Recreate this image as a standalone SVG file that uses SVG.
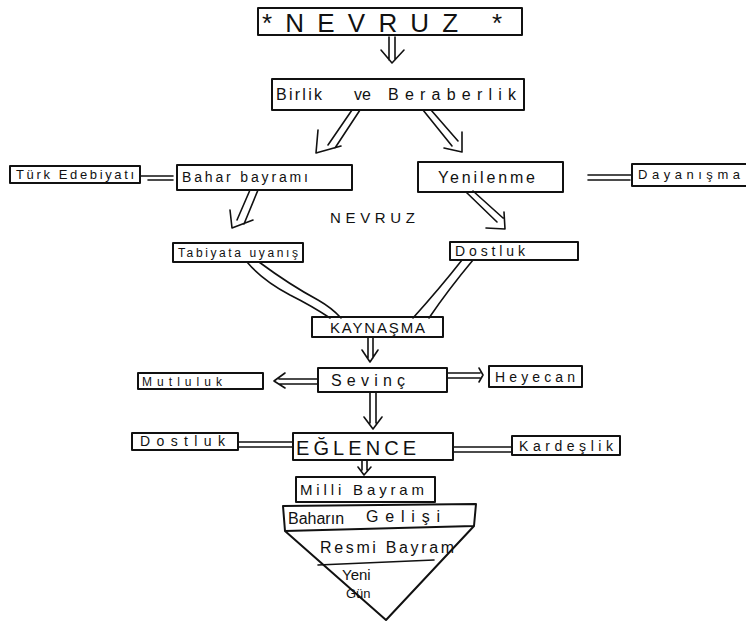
<svg xmlns="http://www.w3.org/2000/svg" width="746" height="623" viewBox="0 0 746 623">
  <style>
    .box { fill: none; stroke: #111; stroke-width: 2; stroke-linejoin: round; }
    .ln { fill: none; stroke: #111; stroke-width: 1.6; stroke-linecap: round; stroke-linejoin: round; }
    .t { font-family: "Liberation Sans", "DejaVu Sans", sans-serif; fill: #111; }
    .s { font-size: 13px; }
  </style>
  <rect width="746" height="623" fill="#fff"/>

  <!-- connectors -->
  <g id="connectors">
    <!-- title to Birlik -->
    <path class="ln" d="M389 37 V60 M395 37 V60 M381 50 L392 63 L404 50"/>
    <!-- Birlik to Bahar (double shaft, down-left) -->
    <path class="ln" d="M352 110 L328 145 M360 110 L335 148 M318 130 L316 153 L341 146"/>
    <!-- Birlik to Yenilenme (double shaft, down-right) -->
    <path class="ln" d="M423 110 L452 146 M431 110 L458 141 M444 148 L462 152 L462 132"/>
    <!-- Türk Edebiyatı = Bahar bayramı -->
    <path class="ln" d="M140 176 H173 M148 180 H173"/>
    <!-- Yenilenme = Dayanışma -->
    <path class="ln" d="M588 175 H632 M588 180 H630"/>
    <!-- Bahar to Tabiyata -->
    <path class="ln" d="M250 190 L237 220 M258 190 L244 224 M230 210 L232 228 L253 220"/>
    <!-- Yenilenme to Dostluk -->
    <path class="ln" d="M466 192 L497 222 M473 191 L503 218 M486 228 L505 229 L504 212"/>
    <!-- Tabiyata to KAYNAŞMA -->
    <path class="ln" d="M247 262 Q262 280 290 295 Q312 306 330 318 M259 262 Q290 285 318 300 Q332 308 341 318"/>
    <!-- Dostluk to KAYNAŞMA -->
    <path class="ln" d="M462 260 Q440 288 413 318 M473 260 Q448 290 429 318"/>
    <!-- KAYNAŞMA to Sevinç -->
    <path class="ln" d="M368 337 V358 M373 337 V358 M362 350 L370 362 L378 350"/>
    <!-- Sevinç to Mutluluk -->
    <path class="ln" d="M318 379 H279 M318 384 H279 M285 373 L274 381 L285 388"/>
    <!-- Sevinç to Heyecan -->
    <path class="ln" d="M447 373 H480 M447 378 H480 M479 368 L483 375 L479 382"/>
    <!-- Sevinç to EĞLENCE -->
    <path class="ln" d="M370 392 L370 423 M376 392 L376 423 M364 417 L373 429 L382 417"/>
    <!-- Dostluk = EĞLENCE -->
    <path class="ln" d="M238 442 H293 M238 447 H293"/>
    <!-- EĞLENCE = Kardeşlik -->
    <path class="ln" d="M453 447 H512 M453 452 H512"/>
    <!-- EĞLENCE to Milli Bayram -->
    <path class="ln" d="M362 460 V470 M367 460 V470 M358 467 L364 475 L371 467"/>
  </g>

  <g id="title">
    <rect class="box" x="258" y="8" width="264" height="27"/>
    <text class="t" x="262" y="32" font-size="26" textLength="240" lengthAdjust="spacing">*NEVRUZ *</text>
  </g>

  <g id="birlik">
    <rect class="box" x="272" y="79" width="252" height="31"/>
    <text class="t" x="276" y="100" font-size="16" textLength="46" lengthAdjust="spacing">Birlik</text>
    <text class="t" x="354" y="100" font-size="16">ve</text>
    <text class="t" x="388" y="100" font-size="16" textLength="128" lengthAdjust="spacing">Beraberlik</text>
  </g>

  <g id="turk-edebiyati">
    <rect class="box" x="10" y="166" width="130" height="17"/>
    <text class="t s" x="16" y="179" textLength="118" lengthAdjust="spacing">Türk Edebiyatı</text>
  </g>

  <g id="bahar-bayrami">
    <rect class="box" x="177" y="165" width="175" height="25"/>
    <text class="t" x="182" y="182" font-size="14" textLength="126" lengthAdjust="spacing">Bahar bayramı</text>
  </g>

  <g id="yenilenme">
    <rect class="box" x="418" y="162" width="145" height="30"/>
    <text class="t" x="438" y="183" font-size="16" textLength="97" lengthAdjust="spacing">Yenilenme</text>
  </g>

  <g id="dayanisma">
    <rect class="box" x="632" y="164" width="116" height="22"/>
    <text class="t s" x="638" y="179" textLength="102" lengthAdjust="spacing">Dayanışma</text>
  </g>

  <g id="nevruz">
    <text class="t" x="330" y="223" font-size="15" textLength="85" lengthAdjust="spacing">NEVRUZ</text>
  </g>

  <g id="tabiyata">
    <rect class="box" x="173" y="243" width="130" height="19"/>
    <text class="t" x="178" y="257" font-size="12" textLength="120" lengthAdjust="spacing">Tabiyata uyanış</text>
  </g>

  <g id="dostluk-1">
    <rect class="box" x="450" y="242" width="128" height="18"/>
    <text class="t" x="455" y="256" font-size="14" textLength="70" lengthAdjust="spacing">Dostluk</text>
  </g>

  <g id="kaynasma">
    <rect class="box" x="312" y="317" width="131" height="20"/>
    <text class="t" x="330" y="333" font-size="15" textLength="95" lengthAdjust="spacing">KAYNAŞMA</text>
  </g>

  <g id="sevinc">
    <rect class="box" x="318" y="368" width="129" height="24"/>
    <text class="t" x="331" y="386" font-size="16" textLength="74" lengthAdjust="spacing">Sevinç</text>
  </g>

  <g id="mutluluk">
    <rect class="box" x="138" y="373" width="125" height="16"/>
    <text class="t" x="142" y="386" font-size="12" textLength="80" lengthAdjust="spacing">Mutluluk</text>
  </g>

  <g id="heyecan">
    <rect class="box" x="489" y="366" width="93" height="21"/>
    <text class="t" x="495" y="382" font-size="14" textLength="80" lengthAdjust="spacing">Heyecan</text>
  </g>

  <g id="eglence">
    <rect class="box" x="293" y="433" width="160" height="27"/>
    <text class="t" x="296" y="455" font-size="20" textLength="120" lengthAdjust="spacing">EĞLENCE</text>
  </g>

  <g id="dostluk-2">
    <rect class="box" x="132" y="433" width="106" height="17"/>
    <text class="t" x="140" y="446" font-size="14" textLength="85" lengthAdjust="spacing">Dostluk</text>
  </g>

  <g id="kardeslik">
    <rect class="box" x="512" y="436" width="108" height="19"/>
    <text class="t" x="519" y="451" font-size="14" textLength="94" lengthAdjust="spacing">Kardeşlik</text>
  </g>

  <g id="milli-bayram">
    <rect class="box" x="296" y="477" width="139" height="25"/>
    <text class="t" x="300" y="495" font-size="15" textLength="124" lengthAdjust="spacing">Milli Bayram</text>
  </g>

  <g id="pyramid">
    <path class="box" d="M283 506 L476 504 L474 526 L285 531 Z"/>
    <path class="box" d="M285 531 L386 620 L474 526"/>
    <path class="ln" d="M318 565 L434 560"/>
    <text class="t" x="288" y="524" font-size="16">Baharın</text>
    <text class="t" x="366" y="522" font-size="16" textLength="74" lengthAdjust="spacing">Gelişi</text>
    <text class="t" x="320" y="553" font-size="16" textLength="134" lengthAdjust="spacing">Resmi Bayram</text>
    <text class="t" x="342" y="580" font-size="15">Yeni</text>
    <text class="t" x="346" y="598" font-size="13">Gün</text>
  </g>
</svg>
